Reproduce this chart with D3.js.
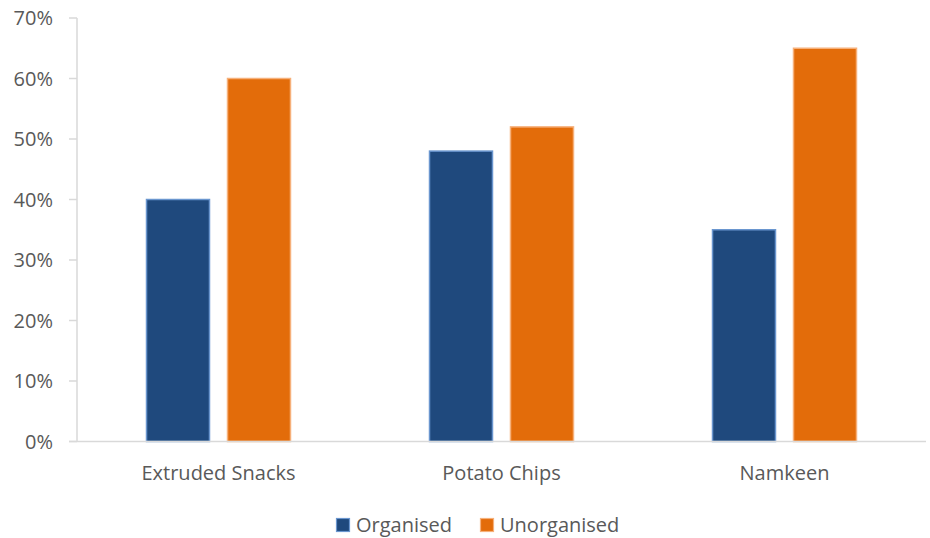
<!DOCTYPE html>
<html><head><meta charset="utf-8">
<script src="https://cdn.jsdelivr.net/npm/d3@7"></script>
<style>body{margin:0;background:#fff}svg{display:block}text{font-family:"Open Sans",sans-serif;fill:#595959}</style>
</head><body><svg id="c" width="930" height="538"></svg>
<script>
const categories = ["Extruded Snacks", "Potato Chips", "Namkeen"];
const seriesNames = ["Organised", "Unorganised"];
const organised = [40, 48, 35];
const unorganised = [60, 52, 65];
const yTicks = [0, 10, 20, 30, 40, 50, 60, 70];
const colors = ["#1f497d", "#e36c0a"];
const strokes = ["#6a96cf", "#f6b07a"];

const svg = d3.select("#c");
const m = {l: 77, r: 926, t: 18, b: 441.5};
const x = d3.scaleBand().domain(categories).range([m.l, m.r]).paddingInner(0).paddingOuter(0);
const y = d3.scaleLinear().domain([0, 70]).range([m.b, m.t]);
const inner = d3.scaleBand().domain(seriesNames).range([0, x.bandwidth()]).paddingInner(0.21).paddingOuter(0.852);

// y axis line
svg.append("line").attr("x1", m.l).attr("x2", m.l).attr("y1", m.t).attr("y2", m.b).attr("stroke", "#d9d9d9").attr("stroke-width", 1.5);
const yg = svg.append("g");
yTicks.forEach(t => {
  yg.append("line").attr("x1", m.l - 8).attr("x2", m.l).attr("y1", y(t)).attr("y2", y(t)).attr("stroke", "#d9d9d9").attr("stroke-width", 1.5);
  yg.append("text").attr("x", 53).attr("y", y(t)).attr("dy", "0.35em").attr("text-anchor", "end").attr("font-size", 20).text(t + "%");
});

const data = [organised, unorganised];
categories.forEach((c, i) => {
  seriesNames.forEach((s, j) => {
    const v = data[j][i];
    svg.append("rect")
      .attr("x", x(c) + inner(s) + 0.5)
      .attr("y", y(v))
      .attr("width", inner.bandwidth() - 1)
      .attr("height", y(0) - y(v))
      .attr("fill", colors[j]).attr("stroke", strokes[j]).attr("stroke-width", 1.5);
  });
  svg.append("text").attr("x", x(c) + x.bandwidth() / 2).attr("y", 473).attr("dy", "0.35em").attr("text-anchor", "middle").attr("font-size", 20).text(c);
});

// x baseline
svg.append("line").attr("x1", m.l - 8).attr("x2", m.r).attr("y1", m.b).attr("y2", m.b).attr("stroke", "#d9d9d9").attr("stroke-width", 1.5);

// legend
const legX = [336, 480];
seriesNames.forEach((s, j) => {
  svg.append("rect").attr("x", legX[j] + 0.5).attr("y", 518.5).attr("width", 13).attr("height", 13).attr("fill", colors[j]).attr("stroke", strokes[j]).attr("stroke-width", 1.2);
  svg.append("text").attr("x", legX[j] + 20).attr("y", 525).attr("dy", "0.35em").attr("font-size", 20).text(s);
});
</script></body></html>
